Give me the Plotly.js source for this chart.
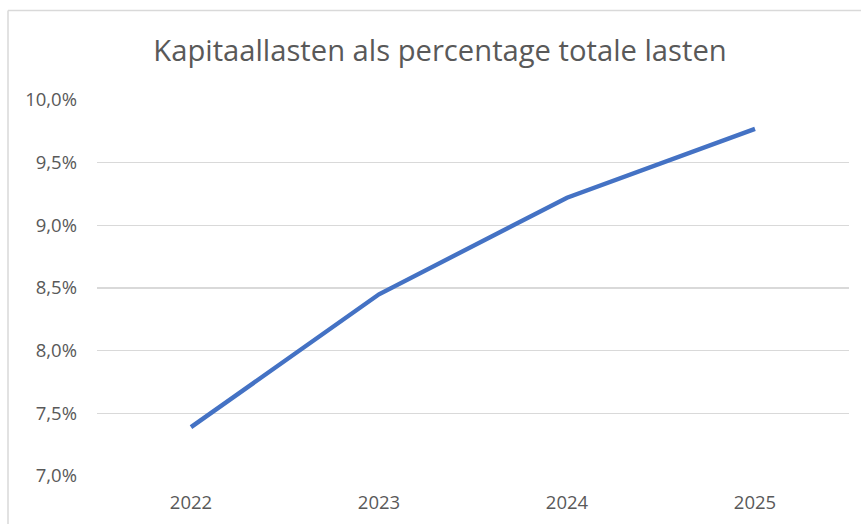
<!DOCTYPE html>
<html>
<head>
<meta charset="utf-8">
<script src="https://cdn.plot.ly/plotly-3.0.1.min.js"></script>
<style>
  html, body { margin: 0; padding: 0; background: #fff; }
  #chart { width: 861px; height: 524px; }
</style>
</head>
<body>
<div id="chart"></div>
<script>
// Data
const years = ["2022", "2023", "2024", "2025"];
const kapitaallastenPct = [7.39, 8.45, 9.22, 9.77];
const yTickValues = [7.0, 7.5, 8.0, 8.5, 9.0, 9.5, 10.0];
const yTickLabels = ["7,0%", "7,5%", "8,0%", "8,5%", "9,0%", "9,5%", "10,0%"];
const chartTitle = "Kapitaallasten als percentage totale lasten";

const W = 861, H = 524;
const mL = 97, mR = 12, mT = 100, mB = 48;
const plotW = W - mL - mR, plotH = H - mT - mB;
// chart frame (top & left edges) in paper coordinates
const frameX = (8 - mL) / plotW;
const frameY = 1 + (mT - 10.5) / plotH;
const frameRight = 1 + (mR + 5) / plotW;
const frameBottom = -(mB + 5) / plotH;

const trace = {
  x: years,
  y: kapitaallastenPct,
  type: 'scatter',
  mode: 'lines',
  line: { color: '#4472C4', width: 4.4 },
  hoverinfo: 'x+y'
};

const font = "'Open Sans', 'Noto Sans', sans-serif";

const layout = {
  width: W, height: H,
  margin: { l: mL, r: mR, t: mT, b: mB },
  paper_bgcolor: '#ffffff',
  plot_bgcolor: '#ffffff',
  showlegend: false,
  font: { family: font, color: '#595959' },
  title: {
    text: chartTitle,
    font: { family: font, size: 29.2, color: '#595959' },
    x: 440 / W, xanchor: 'center', xref: 'container',
    y: 1 - 51 / H, yanchor: 'middle', yref: 'container'
  },
  xaxis: {
    type: 'category',
    range: [-0.5, years.length - 0.5],
    showgrid: false,
    zeroline: false,
    showline: false,
    ticks: '',
    tickfont: { family: font, size: 18.5, color: '#595959' },
    ticklabelstandoff: 13
  },
  yaxis: {
    range: [7, 10],
    tickmode: 'array',
    tickvals: yTickValues,
    ticktext: yTickLabels,
    showgrid: true,
    gridcolor: '#D9D9D9',
    gridwidth: 1.3,
    zeroline: false,
    showline: false,
    ticks: '',
    tickfont: { family: font, size: 18.5, color: '#595959' },
    ticklabelstandoff: 19
  },
  shapes: [
    { type: 'line', xref: 'paper', yref: 'paper', x0: frameX, x1: frameRight, y0: frameY, y1: frameY,
      line: { color: '#D9D9D9', width: 1.5 } },
    { type: 'line', xref: 'paper', yref: 'paper', x0: frameX, x1: frameX, y0: frameY, y1: frameBottom,
      line: { color: '#D9D9D9', width: 1.5 } }
  ]
};

Plotly.newPlot('chart', [trace], layout, { displayModeBar: false, staticPlot: true });
</script>
</body>
</html>
